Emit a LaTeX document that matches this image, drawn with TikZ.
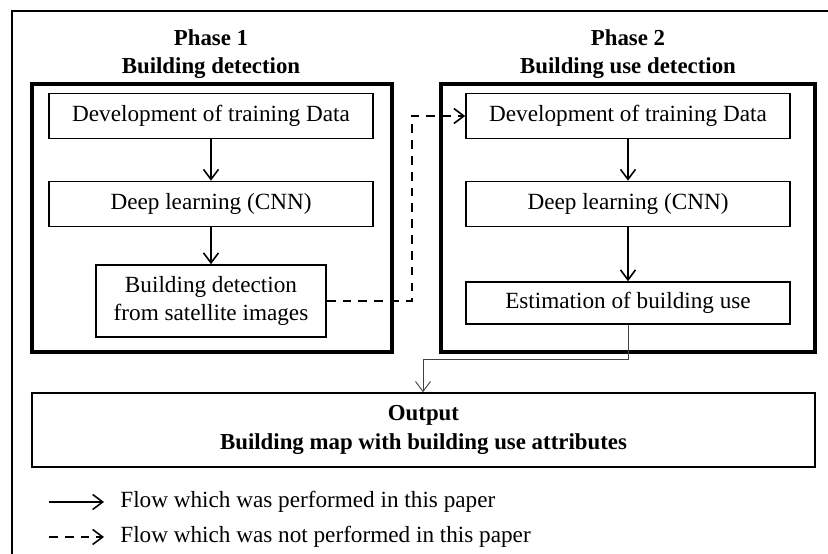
\documentclass[tikz,border=0pt]{standalone}
\usepackage{fontspec}
\setmainfont{Liberation Serif}
\usetikzlibrary{arrows.meta,positioning}

\begin{document}
\begin{tikzpicture}[>={Straight Barb[length=2mm,width=3mm]},
    box/.style={draw,line width=0.9pt,minimum width=6.48cm,minimum height=0.9cm,
      inner sep=0pt,align=center,font=\fontsize{13.2}{15.5}\selectfont},
    phase/.style={draw,line width=1.8pt,minimum width=#1,minimum height=5.36cm,inner sep=0pt},
    title/.style={align=center,font=\fontsize{13}{16}\selectfont\bfseries},
    flow/.style={->,line width=0.9pt}]
    \useasboundingbox (0,0) rectangle (16.56,11.08);
    \clip (0,0) rectangle (16.56,11.08);
    % outer frame, runs off the page on the right and at the bottom
    \draw[line width=1.2pt] (0.24,-1) -- (0.24,10.86) -- (17,10.86);
    % left panel: phase 1
    \node[phase=7.2cm] (ph1) at (4.24,6.72) {};
    \node[title] at (4.22,10.0) {Phase 1\\Building detection};
    \node[box] (dev1) at (4.22,8.76) {Development of training Data};
    \node[box] (dl1) at (4.22,7.00) {Deep learning (CNN)};
    \node[box,minimum width=4.6cm,minimum height=1.44cm] (det1) at (4.22,5.06)
      {Building detection\\from satellite images};
    \draw[flow] (dev1) -- (dl1);
    \draw[flow] (dl1) -- (det1);
    % right panel: phase 2
    \node[phase=7.48cm] (ph2) at (12.56,6.72) {};
    \node[title] at (12.56,10.0) {Phase 2\\Building use detection};
    \node[box] (dev2) at (12.56,8.76) {Development of training Data};
    \node[box] (dl2) at (12.56,7.00) {Deep learning (CNN)};
    \node[box,minimum height=0.84cm] (est) at (12.56,5.02) {Estimation of building use};
    \draw[flow] (dev2) -- (dl2);
    \draw[flow] (dl2) -- (est);
    % link between the phases (not performed)
    \coordinate (k1) at (8.24,5.06);
    \coordinate (k2) at (8.24,8.76);
    \draw[flow,dashed,dash pattern=on 5pt off 4pt] (det1.east) -- (k1) -- (k2) -- (dev2.west);
    % output
    \node[box,minimum width=15.66cm,minimum height=1.48cm,font=\fontsize{13}{16}\selectfont\bfseries]
      (out) at (8.47,2.48) {Output\\Building map with building use attributes};
    \coordinate (j1) at (12.56,3.90);
    \coordinate (j2) at (8.46,3.90);
    \draw[->,line width=0.5pt,black!75] (est.south) -- (j1) -- (j2) -- (j2 |- out.north);
    % legend
    \coordinate (s1) at (0.98,1.04);
    \coordinate (s2) at (2.08,1.04);
    \coordinate (d1) at (0.98,0.34);
    \coordinate (d2) at (2.08,0.34);
    \draw[flow] (s1) -- (s2);
    \draw[flow,dashed,dash pattern=on 5pt off 4pt] (d1) -- (d2);
    \node[right=0.32cm of s2,inner sep=0pt,font=\fontsize{13.2}{15.5}\selectfont] {Flow which was performed in this paper};
    \node[right=0.32cm of d2,inner sep=0pt,font=\fontsize{13.2}{15.5}\selectfont] {Flow which was not performed in this paper};
  \end{tikzpicture}
\end{document}
